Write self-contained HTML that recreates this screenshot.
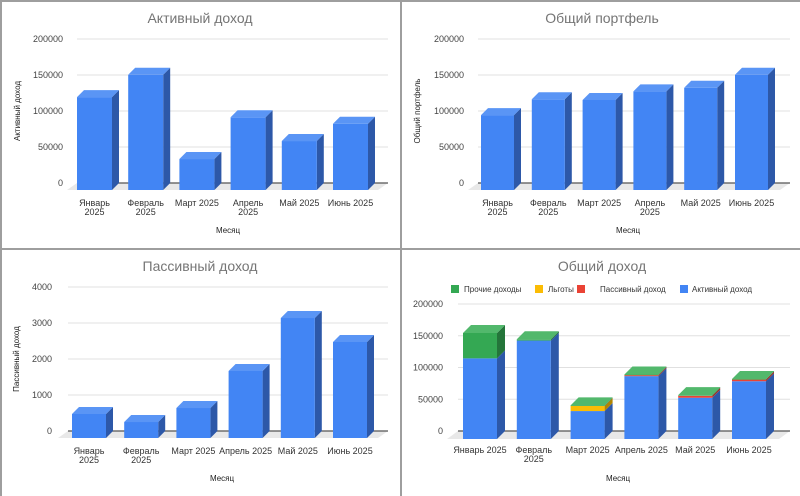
<!DOCTYPE html>
<html><head><meta charset="utf-8">
<style>
html,body{margin:0;padding:0;background:#fff;}
#wrap{position:relative;width:800px;height:496px;overflow:hidden;background:#fff;}
svg{position:absolute;left:0;top:0;font-family:"Liberation Sans",Arial,sans-serif;}
</style></head>
<body>
<div id="wrap">
<svg id="s" width="800" height="496">
  <rect x="0" y="0" width="800" height="496" fill="#fff"/>
  <line x1="1" y1="0" x2="1" y2="496" stroke="#9e9e9e" stroke-width="2"/>
  <line x1="0" y1="1" x2="800" y2="1" stroke="#9e9e9e" stroke-width="2"/>
  <line x1="401" y1="0" x2="401" y2="496" stroke="#9e9e9e" stroke-width="2"/>
  <line x1="0" y1="249" x2="800" y2="249" stroke="#9e9e9e" stroke-width="2"/>
</svg>
</div>
<script>
const months = ["Январь 2025","Февраль 2025","Март 2025","Апрель 2025","Май 2025","Июнь 2025"];
const activeIncome = [129000,160000,43000,101000,68000,92000];
const portfolio = [104000,126000,125000,137000,142000,160000];
const passiveIncome = [667,444,833,1861,3333,2667];
const totalActive = [127000,155000,44000,99000,65000,91000];
const totalPassive = [0,0,0,1500,3000,2500];
const totalBenefits = [0,0,8000,0,0,0];
const totalOther = [40000,2000,1000,1000,1000,1000];
const ticks200k = ["0","50000","100000","150000","200000"];
const ticks4k = ["0","1000","2000","3000","4000"];

const NS="http://www.w3.org/2000/svg";
const svg=document.getElementById('s');
function el(tag,attrs,parent,text){
  const e=document.createElementNS(NS,tag);
  for(const k in attrs) e.setAttribute(k,attrs[k]);
  if(text!==undefined) e.textContent=text;
  (parent||svg).appendChild(e);
  return e;
}
const COLORS={
  blue:{f:"#4285f4",t:"#5a95f5",s:"#2d58a8"},
  green:{f:"#34a853",t:"#52b86c",s:"#24753a"},
  yellow:{f:"#fbbc04",t:"#fcc934",s:"#b08403"},
  red:{f:"#ea4335",t:"#ee6458",s:"#a32f25"}
};

function chart(cfg){
  const g=el('g',{});
  
  
  const ox=cfg.ox, oy=cfg.oy, d=cfg.depth;
  const y=v=>oy+cfg.base-(v/cfg.max)*(cfg.base-cfg.top);
  // title
  const t=el('text',{x:ox+cfg.titleX,y:oy+23,'text-anchor':'middle','font-size':14,fill:'#757575'},g,cfg.title);
  
  
  // floor
  const floor=el('polygon',{points:`${ox+cfg.gx0},${oy+cfg.base} ${ox+cfg.gx1},${oy+cfg.base} ${ox+cfg.gx1-d-3},${oy+cfg.base+d} ${ox+cfg.gx0-d-3},${oy+cfg.base+d}`,fill:'#e8e8e8'},g);
  
  
  // gridlines and ticks
  cfg.ticks.forEach((lab,i)=>{
    const v=cfg.max*i/(cfg.ticks.length-1);
    const yy=y(v);
    const ln=el('line',{x1:ox+cfg.gx0,x2:ox+cfg.gx1,y1:yy,y2:yy,stroke:i===0?'#555':'#e0e0e0','stroke-width':i===0?1.2:1},g);
    
    
    const tx=el('text',{x:ox+cfg.tickX,y:yy+3,'text-anchor':'end','font-size':9,fill:'#444'},g,lab);
    
    
  });
  // bars
  months.forEach((m,i)=>{
    const fx=ox+cfg.bx0+i*cfg.step, w=cfg.bw;
    let acc=0;
    const segs=cfg.series.filter(s=>s.values[i]>0);
    segs.forEach((s,k)=>{
      const v0=acc, v1=acc+s.values[i]; acc=v1;
      const c=COLORS[s.color];
      const yb=y(v0)+d, yt=y(v1)+d;
      const side=el('polygon',{points:`${fx+w},${yb} ${fx+w+d},${yb-d} ${fx+w+d},${yt-d} ${fx+w},${yt}`,fill:c.s},g);
      
      
      const front=el('rect',{x:fx,y:yt,width:w,height:Math.max(0,yb-yt),fill:c.f},g);
      
      
      if(k===segs.length-1){
        const top=el('polygon',{points:`${fx},${yt} ${fx+d},${yt-d} ${fx+w+d},${yt-d} ${fx+w},${yt}`,fill:c.t},g);
        
        
      }
    });
    // x labels
    const cx=fx+w/2;
    const lines=cfg.wrap[i]?m.split(' '):[m];
    lines.forEach((ln,j)=>{
      const xl=el('text',{x:cx,y:oy+cfg.labY+j*9,'text-anchor':'middle','font-size':9,fill:'#333'},g,ln);
      
      
    });
  });
  const xt=el('text',{x:ox+cfg.xTitleX,y:oy+233,'text-anchor':'middle','font-size':8,fill:'#222'},g,'Месяц');
  
  
  if(cfg.yTitle){
    const cy=oy+(cfg.top+cfg.base)/2;
    const yt=el('text',{x:ox+cfg.yTitleX,y:cy,'text-anchor':'middle','font-size':8,fill:'#222',transform:`rotate(-90 ${ox+cfg.yTitleX} ${cy})`},g,cfg.yTitle);
    
    
  }
  return g;
}

chart({name:'active-income-chart',title:'Активный доход',titleX:200,ox:0,oy:0,depth:7,top:39,base:183,max:200000,
  gx0:77,gx1:388,tickX:63,bx0:77,step:51.2,bw:35,labY:206,xTitleX:228,yTitle:'Активный доход',yTitleX:20,
  ticks:ticks200k,wrap:[1,1,0,1,0,0],series:[{key:'active',color:'blue',values:activeIncome}]});
chart({name:'portfolio-chart',title:'Общий портфель',titleX:202,ox:400,oy:0,depth:7,top:39,base:183,max:200000,
  gx0:78,gx1:390,tickX:64,bx0:81,step:50.8,bw:33,labY:206,xTitleX:228,yTitle:'Общий портфель',yTitleX:20,
  ticks:ticks200k,wrap:[1,1,0,1,0,0],series:[{key:'portfolio',color:'blue',values:portfolio}]});
chart({name:'passive-income-chart',title:'Пассивный доход',titleX:200,ox:0,oy:248,depth:7,top:39,base:183,max:4000,
  gx0:68,gx1:388,tickX:52,bx0:72,step:52.2,bw:34,labY:206,xTitleX:222,yTitle:'Пассивный доход',yTitleX:19,
  ticks:ticks4k,wrap:[1,1,0,0,0,0],series:[{key:'passive',color:'blue',values:passiveIncome}]});
chart({name:'total-income-chart',title:'Общий доход',titleX:202,ox:400,oy:248,depth:8,top:56,base:183,max:200000,
  gx0:58,gx1:390,tickX:43,bx0:63,step:53.8,bw:34,labY:205,xTitleX:218,yTitle:null,
  ticks:ticks200k,wrap:[0,1,0,0,0,0],series:[
    {key:'active',color:'blue',values:totalActive},
    {key:'passive',color:'red',values:totalPassive},
    {key:'benefits',color:'yellow',values:totalBenefits},
    {key:'other',color:'green',values:totalOther}]});

// legend
const legendItems=[["Прочие доходы","#34a853",451,464],["Льготы","#fbbc04",535,548],["Пассивный доход","#ea4335",577,600],["Активный доход","#4285f4",680,692]];
const lg=el('g',{});


legendItems.forEach(it=>{
  const e=el('g',{},lg);
  
  
  el('rect',{x:it[2],y:285,width:8,height:8,fill:it[1]},e);
  el('text',{x:it[3],y:292,'font-size':8,fill:'#333'},e,it[0]);
});
</script>
</body></html>
